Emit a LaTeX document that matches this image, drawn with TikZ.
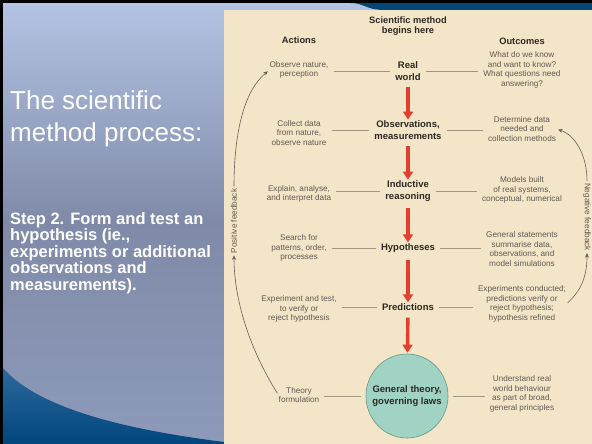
\documentclass[tikz,border=0pt]{standalone}
\usepackage{fontspec}
\setmainfont{Liberation Sans}
\usetikzlibrary{arrows.meta,shapes.geometric}
\definecolor{beige}{RGB}{243,229,199}
\definecolor{bgtop}{RGB}{180,196,228}
\definecolor{bgmid}{RGB}{128,138,168}
\definecolor{bgbot}{RGB}{142,154,186}
\definecolor{wavetop}{RGB}{45,105,155}
\definecolor{wavebot}{RGB}{0,70,125}
\definecolor{darkblue}{RGB}{5,70,120}
\definecolor{txtgray}{RGB}{95,90,82}
\definecolor{txtdark}{RGB}{45,40,35}
\definecolor{conncol}{RGB}{160,150,125}
\definecolor{arrred}{RGB}{228,62,48}
\definecolor{tealfill}{RGB}{160,211,196}
\definecolor{tealdark}{RGB}{105,150,135}
\definecolor{fbgray}{RGB}{100,96,88}
\begin{document}
\begin{tikzpicture}[x=1pt,y=-1pt,
  lab/.style={font=\fontsize{8.2}{9.7}\selectfont, text=txtgray, align=center, inner sep=0pt},
  cen/.style={font=\bfseries\fontsize{9.5}{11.5}\selectfont, text=txtdark, align=center, inner sep=0pt},
  hdr/.style={font=\bfseries\fontsize{9.3}{10}\selectfont, text=txtdark, align=center, inner sep=0pt},
  conn/.style={draw=conncol, line width=0.8pt, shorten <=5pt, shorten >=5pt},
  redarrow/.style={draw=arrred, line width=3.4pt, -{Triangle[width=10pt,length=8pt]}},
  fb/.style={draw=fbgray, line width=0.6pt, -{Stealth[length=4.5pt,width=4pt]}, shorten <=2pt, shorten >=2pt},
  slide/.style={anchor=west, text=white, align=left, inner sep=0pt}]
\useasboundingbox (0,0) rectangle (592,444);
% background
\shade[top color=bgtop, bottom color=bgbot, middle color=bgmid] (0,0) rectangle (592,444);
\shade[top color=wavetop, bottom color=wavebot] (3,368) .. controls (40,410) and (130,430) .. (224,442) -- (224,444) -- (3,444) -- cycle;
\fill[darkblue] (350,3) .. controls (365,3) and (365,10) .. (385,10) -- (592,10) -- (592,3) -- cycle;
\fill[beige] (224,10) rectangle (592,444);
\fill[black] (0,0) rectangle (592,3);
\fill[black] (0,0) rectangle (3,444);
% slide text
\node[slide, font=\fontsize{26}{32}\selectfont] (title) at (10,119) {The scientific\\method process:};
\node[slide, font=\bfseries\fontsize{16.5}{16.6}\selectfont] (stepx) at (10,253) {Step 2. Form and test an\\hypothesis (ie.,\\experiments or additional\\observations and\\measurements).};
% headers
\node[hdr] (start) at (408,26) {Scientific method\\begins here};
\node[hdr] (act) at (299,40) {Actions};
\node[hdr] (out) at (522,41) {Outcomes};
% centre column
\node[cen] (real) at (408,71) {Real\\world};
\node[cen] (obs) at (408,130) {Observations,\\measurements};
\node[cen] (ind) at (408,191) {Inductive\\reasoning};
\node[cen] (hyp) at (408,248) {Hypotheses};
\node[cen] (pred) at (408,307) {Predictions};
\node[cen, ellipse, fill=tealfill, draw=tealdark, line width=0.6pt, inner xsep=-10pt, inner ysep=0pt, minimum width=82pt, minimum height=84pt] (gen) at (407,396) {General theory,\\governing laws};
% actions
\node[lab] (a1) at (299,70) {Observe nature,\\perception};
\node[lab] (a2) at (299,133) {Collect data\\from nature,\\observe nature};
\node[lab] (a3) at (299,194) {Explain, analyse,\\and interpret data};
\node[lab] (a4) at (299,248) {Search for\\patterns, order,\\processes};
\node[lab] (a5) at (299,309) {Experiment and test,\\to verify or\\reject hypothesis};
\node[lab] (a6) at (299,395) {Theory\\formulation};
% outcomes
\node[lab] (o1) at (522,70) {What do we know\\and want to know?\\What questions need\\answering?};
\node[lab] (o2) at (522,129) {Determine data\\needed and\\collection methods};
\node[lab] (o3) at (522,190) {Models built\\of real systems,\\conceptual, numerical};
\node[lab] (o4) at (522,249) {General statements\\summarise data,\\observations, and\\model simulations};
\node[lab] (o5) at (522,304) {Experiments conducted;\\predictions verify or\\reject hypothesis;\\hypothesis refined};
\node[lab] (o6) at (522,394) {Understand real\\world behaviour\\as part of broad,\\general principles};
% connectors
\foreach \l/\c/\r in {a1/real/o1, a2/obs/o2, a3/ind/o3, a4/hyp/o4, a5/pred/o5, a6/gen/o6} {
  \draw[conn] (\l.east |- \c) -- (\c);
  \draw[conn] (\c) -- (\r.west |- \c);
}
% red arrows
\draw[redarrow, shorten <=7pt, shorten >=1pt] (real) -- (obs);
\draw[redarrow, shorten <=7pt, shorten >=1pt] (obs) -- (ind);
\draw[redarrow, shorten <=7pt, shorten >=1pt] (ind) -- (hyp);
\draw[redarrow, shorten <=7pt, shorten >=1pt] (hyp) -- (pred);
\draw[redarrow, shorten <=7pt, shorten >=1pt] (pred) -- (gen);
% feedback
\node[lab, rotate=90] (pfb) at (234,221) {Positive feedback};
\node[lab, rotate=-90] (nfb) at (587,217) {Negative feedback};
\draw[fb] (a6.west) .. controls (250,350) and (234,300) .. (pfb.west);
\draw[fb] (pfb.east) .. controls (234,130) and (245,90) .. (a1.west);
\draw[fb] (o5.east) .. controls (582,290) and (587,275) .. (nfb.east);
\draw[fb] (nfb.west) .. controls (587,155) and (575,135) .. (o2.east);
\end{tikzpicture}
\end{document}
